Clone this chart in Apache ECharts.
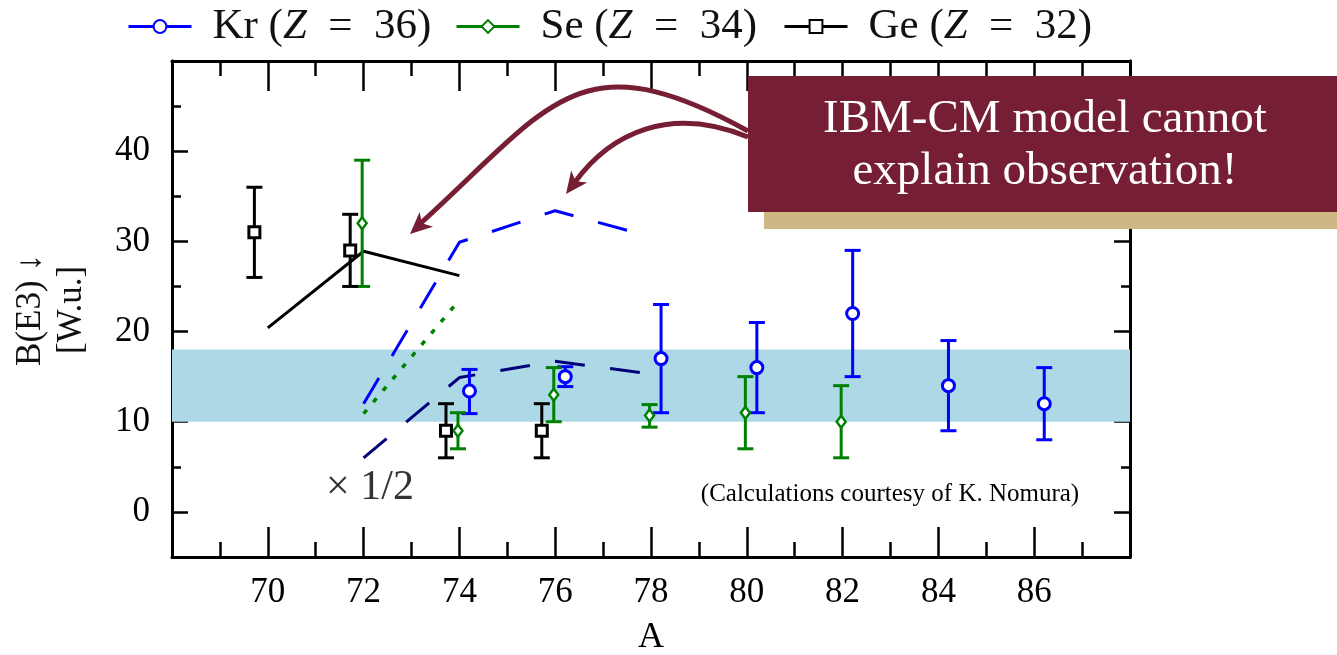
<!DOCTYPE html>
<html>
<head>
<meta charset="utf-8">
<script src="https://cdn.jsdelivr.net/npm/echarts@6/dist/echarts.min.js"></script>
<style>html,body{margin:0;padding:0;background:#fff}#c{width:1337px;height:655px}</style>
</head>
<body>
<div id="c"></div>
<script>
// ---------------- data ----------------
const A_kr  = [74, 76, 78, 80, 82, 84, 86];
const B_kr  = [13.4, 15.0, 17.0, 16.0, 22.0, 14.0, 12.0];
const lo_kr = [10.9, 13.9, 11.0, 11.0, 15.0, 9.0, 8.0];
const hi_kr = [15.8, 16.1, 23.0, 21.0, 29.0, 19.0, 16.0];

const A_se  = [72, 74, 76, 78, 80, 82];
const B_se  = [32, 9, 13, 10.7, 11, 10];
const lo_se = [25, 7, 10, 9.4, 7, 6];
const hi_se = [39, 11, 16, 11.9, 15, 14];

const A_ge  = [70, 72, 74, 76];
const B_ge  = [31, 29, 9, 9];
const lo_ge = [26, 25, 6, 6];
const hi_ge = [36, 33, 12, 12];

const A_krTh     = [72, 74, 76, 78];
const krTh       = [12.0, 29.9, 33.4, 30.5];
const krThHalf   = [6.0, 14.9, 16.7, 15.3];
const A_seTh     = [72, 74];
const seTh       = [10.9, 23.5];
const A_geTh     = [70, 72, 74];
const geTh       = [20.4, 28.9, 26.2];

const bandRange  = [10, 18];
const yMajorTicks = [0, 10, 20, 30, 40];
const yMinorTicks = [-5, 5, 15, 25, 35, 45];

const names = ['Kr (Z = 36)', 'Se (Z = 34)', 'Ge (Z = 32)'];

// ---------------- style ----------------
const FONT = '"Liberation Serif", "Times New Roman", serif';
const BLUE = '#0000ff', GREEN = '#008000', BLACK = '#000000', NAVY = '#00007a';
const WINE = '#761e34', TAN = '#cfb783';
const SHIFT = {kr: 0.21, se: -0.03, ge: -0.28};
const DASH = [30, 25.5];

const zip = (xs, ys, dx) => xs.map((x, i) => [x + (dx || 0), ys[i]]);
const zipErr = (xs, lo, hi, dx) => xs.map((x, i) => [x + dx, lo[i], hi[i]]);

function errSeries(data, color, capHalf) {
  return {
    type: 'custom', z: 3, silent: true,
    encode: {x: 0, y: [1, 2]},
    data: data,
    renderItem: function (params, api) {
      const x = api.value(0), lo = api.value(1), hi = api.value(2);
      const p1 = api.coord([x, hi]), p2 = api.coord([x, lo]);
      const st = {stroke: color, lineWidth: 3};
      return {type: 'group', children: [
        {type: 'line', shape: {x1: p1[0], y1: p1[1], x2: p2[0], y2: p2[1]}, style: st},
        {type: 'line', shape: {x1: p1[0] - capHalf, y1: p1[1], x2: p1[0] + capHalf, y2: p1[1]}, style: st},
        {type: 'line', shape: {x1: p2[0] - capHalf, y1: p2[1], x2: p2[0] + capHalf, y2: p2[1]}, style: st}
      ]};
    }
  };
}

function pointSeries(name, data, color, symbol, size, bw) {
  return {
    name: name, type: 'line', z: 5, data: data,
    symbol: symbol, symbolSize: size, showSymbol: true,
    lineStyle: {opacity: 0, width: 0},
    itemStyle: {color: '#ffffff', borderColor: color, borderWidth: bw},
    emphasis: {disabled: true}
  };
}

function legendFor(name, left, color) {
  return {
    left: left, top: 5, padding: 0, orient: 'horizontal',
    selectedMode: false,
    itemWidth: 63, itemHeight: 16,
    data: [name],
    lineStyle: {color: color, width: 3, opacity: 1},
    formatter: function (n) {
      const m = n.match(/^(\S+) \(Z = (\d+)\)$/);
      return '{s|}{n|' + m[1] + ' (}{i|Z}{n|\u2002=\u2002' + m[2] + ')}';
    },
    textStyle: {
      fontFamily: FONT, fontSize: 43, color: '#111',
      rich: {
        s: {width: 16},
        n: {fontFamily: FONT, fontSize: 43, color: '#111', lineHeight: 44},
        i: {fontFamily: FONT, fontSize: 43, fontStyle: 'italic', color: '#111', lineHeight: 44}
      }
    }
  };
}

function xAx(pos, labels) {
  return {
    type: 'value', position: pos, min: 68, max: 88, interval: 2,
    axisLine: {show: true, onZero: false, lineStyle: {color: BLACK, width: 3}},
    axisTick: {show: true, inside: true, length: 30, lineStyle: {color: BLACK, width: 2.5}},
    minorTick: {show: true, splitNumber: 2, length: 15, lineStyle: {color: BLACK, width: 2.5}},
    splitLine: {show: false}, minorSplitLine: {show: false},
    axisLabel: {show: labels, margin: 18, fontFamily: FONT, fontSize: 35, color: BLACK,
      formatter: v => (v === 68 || v === 88) ? '' : String(v)},
    name: labels ? 'A' : '', nameLocation: 'middle', nameGap: 63,
    nameTextStyle: {fontFamily: FONT, fontSize: 36, color: BLACK}
  };
}
function yAx(pos, ticks, len, labels) {
  return {
    type: 'value', position: pos, min: -5, max: 50, interval: 5,
    axisLine: {show: true, onZero: false, lineStyle: {color: BLACK, width: 3}},
    axisTick: {show: true, inside: true, length: len, customValues: ticks, lineStyle: {color: BLACK, width: 2.5}},
    splitLine: {show: false},
    axisLabel: {show: labels, customValues: yMajorTicks, margin: 22, fontFamily: FONT, fontSize: 35, color: BLACK}
  };
}

const chart = echarts.init(document.getElementById('c'), null, {renderer: 'canvas'});

const arrows = [
  {type: 'bezierCurve', z: 100, shape: {x1: 748, y1: 131, cpx1: 578, cpy1: 37, cpx2: 550, cpy2: 106, x2: 421, y2: 223},
   style: {stroke: WINE, lineWidth: 5, fill: null}},
  {type: 'polygon', z: 100, shape: {points: [[410, 234], [433, 226.7], [421.9, 223.3], [419.6, 211.9]]}, style: {fill: WINE}},
  {type: 'bezierCurve', z: 100, shape: {x1: 748, y1: 137, cpx1: 670, cpy1: 105, cpx2: 611, cpy2: 133, x2: 575, y2: 182},
   style: {stroke: WINE, lineWidth: 5, fill: null}},
  {type: 'polygon', z: 100, shape: {points: [[566, 194], [587.2, 182.4], [575.6, 181.2], [571.2, 170.4]]}, style: {fill: WINE}}
];

chart.setOption({
  animation: false,
  backgroundColor: '#ffffff',
  grid: {left: 172, right: 207, top: 61, bottom: 98, outerBoundsMode: 'none'},
  legend: [legendFor(names[0], 127, BLUE), legendFor(names[1], 455, GREEN), legendFor(names[2], 783, BLACK)],
  xAxis: [xAx('bottom', true), xAx('top', false)],
  yAxis: [yAx('left', yMajorTicks, 16, true), yAx('left', yMinorTicks, 9, false),
          yAx('right', yMajorTicks, 16, false), yAx('right', yMinorTicks, 9, false)],
  series: [
    {type: 'line', z: 2, data: zip(A_krTh, krTh), symbol: 'none', silent: true,
     lineStyle: {color: BLUE, width: 3, type: DASH},
     markArea: {silent: true, itemStyle: {color: '#add8e6', opacity: 1},
       data: [[{yAxis: bandRange[0]}, {yAxis: bandRange[1]}]]}},
    {type: 'line', z: 2, data: zip(A_krTh, krThHalf), symbol: 'none', silent: true,
     lineStyle: {color: NAVY, width: 3, type: DASH}},
    {type: 'line', z: 2, data: zip(A_seTh, seTh), symbol: 'none', silent: true,
     lineStyle: {color: GREEN, width: 3.5, type: [5, 10]}},
    {type: 'line', z: 2, data: zip(A_geTh, geTh), symbol: 'none', silent: true,
     lineStyle: {color: BLACK, width: 3}},
    errSeries(zipErr(A_kr, lo_kr, hi_kr, SHIFT.kr), BLUE, 8),
    errSeries(zipErr(A_se, lo_se, hi_se, SHIFT.se), GREEN, 8),
    errSeries(zipErr(A_ge, lo_ge, hi_ge, SHIFT.ge), BLACK, 8),
    pointSeries(names[0], zip(A_kr, B_kr, SHIFT.kr), BLUE, 'circle', 12, 3),
    pointSeries(names[1], zip(A_se, B_se, SHIFT.se), GREEN, 'diamond', [9, 12], 2.5),
    pointSeries(names[2], zip(A_ge, B_ge, SHIFT.ge), BLACK, 'rect', 11, 3)
  ],
  graphic: [
    {type: 'text', x: 51, y: 310, rotation: Math.PI / 2, z: 50,
     style: {text: 'B(E3) \u2193\n[W.u.]', font: '35px ' + FONT, fill: '#111', lineHeight: 41,
             align: 'center', verticalAlign: 'middle', textAlign: 'center', textVerticalAlign: 'middle'}},
    {type: 'text', x: 370, y: 488, z: 50,
     style: {text: '\u00d7 1/2', font: '42px ' + FONT, fill: '#333',
             align: 'center', verticalAlign: 'middle', textAlign: 'center', textVerticalAlign: 'middle'}},
    {type: 'text', x: 890, y: 494, z: 50,
     style: {text: '(Calculations courtesy of K. Nomura)', font: '25px ' + FONT, fill: '#000',
             align: 'center', verticalAlign: 'middle', textAlign: 'center', textVerticalAlign: 'middle'}},
    ...arrows,
    {type: 'rect', z: 110, shape: {x: 764, y: 90, width: 573, height: 139}, style: {fill: TAN}},
    {type: 'rect', z: 111, shape: {x: 748, y: 76, width: 589, height: 136}, style: {fill: WINE}},
    {type: 'text', x: 1045, y: 146, z: 112,
     style: {text: 'IBM-CM model cannot\nexplain observation!', font: '47px ' + FONT, fill: '#ffffff', lineHeight: 52,
             align: 'center', verticalAlign: 'middle', textAlign: 'center', textVerticalAlign: 'middle'}}
  ]
});
</script>
</body>
</html>
